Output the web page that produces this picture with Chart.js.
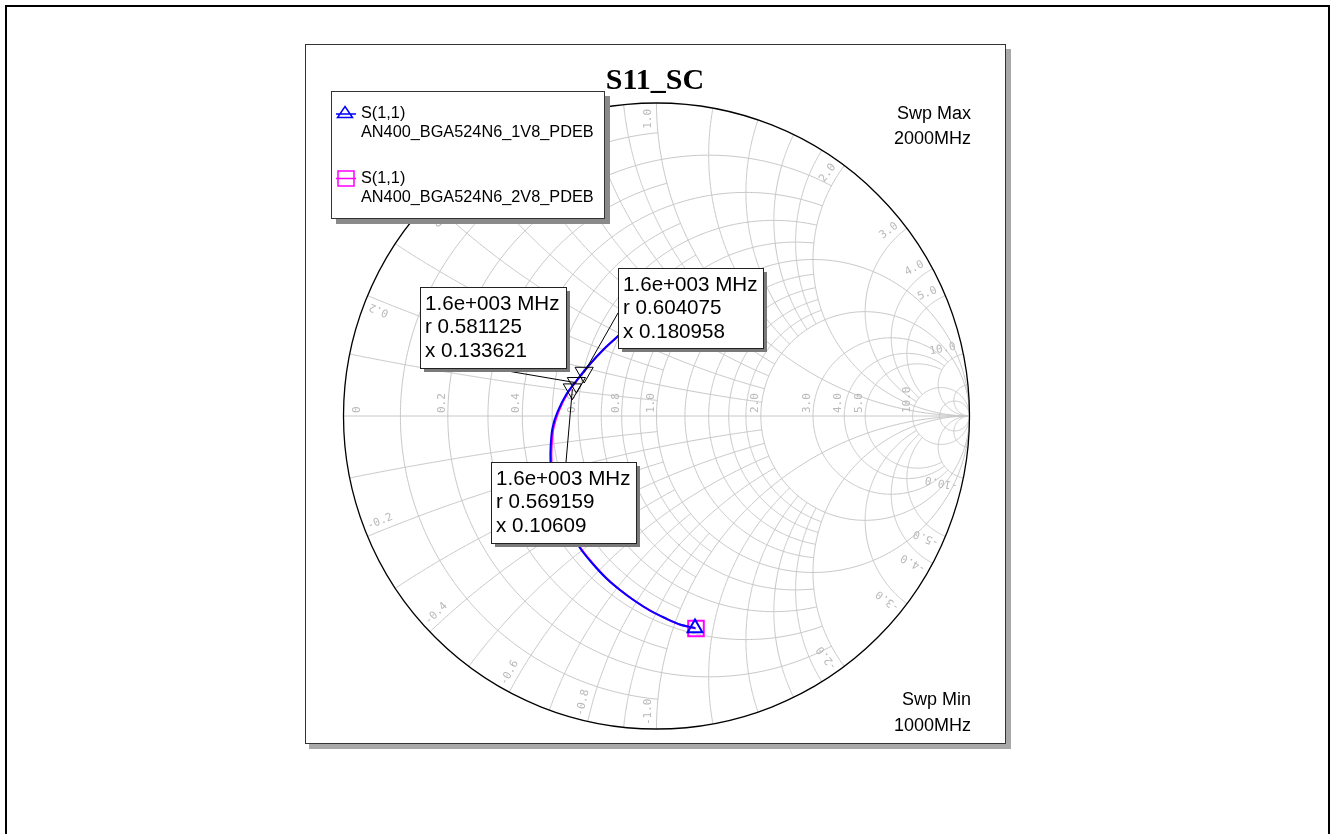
<!DOCTYPE html>
<html>
<head>
<meta charset="utf-8">
<script src="https://cdn.jsdelivr.net/npm/chart.js@4.4.1/dist/chart.umd.min.js"></script>
<style>
html, body { margin: 0; padding: 0; background: #fff; }
canvas { display: block; }
</style>
</head>
<body>
<canvas id="smith" width="1332" height="834" style="width:1332px;height:834px"></canvas>
<script>
// S(1,1) as reflection coefficient (real / imag), sweep 1000 -> 2000 MHz
const re1V8 = [0.1230, 0.0751, 0.0272, -0.0208, -0.0687, -0.1166, -0.1613, -0.2061, -0.2444, -0.2764, -0.3019, -0.3211,
    -0.3339, -0.3387, -0.3380, -0.3323, -0.3163, -0.2875, -0.2540, -0.2125, -0.1709, -0.1262, -0.1166];
const im1V8 = [-0.6773, -0.6661, -0.6454, -0.6214, -0.5911, -0.5559, -0.5176, -0.4696, -0.4217, -0.3642, -0.3067, -0.2492,
    -0.1949, -0.1438, -0.0927, -0.0383, 0.0128, 0.0703, 0.1150, 0.1661, 0.2109, 0.2524, 0.2620];
const re2V8 = [0.1262, 0.0783, 0.0304, -0.0176, -0.0655, -0.1134, -0.1581, -0.2029, -0.2412, -0.2732, -0.2987, -0.3179,
    -0.3307, -0.3355, -0.3348, -0.3291, -0.3131, -0.2847, -0.2514, -0.2099, -0.1684, -0.1236, -0.1141];
const im2V8 = [-0.6789, -0.6677, -0.6476, -0.6236, -0.5936, -0.5585, -0.5201, -0.4719, -0.4236, -0.3661, -0.3083, -0.2505,
    -0.1958, -0.1444, -0.0930, -0.0383, 0.0134, 0.0716, 0.1169, 0.1684, 0.2134, 0.2550, 0.2645];

// markers at 1.6 GHz (normalised r + jx, as printed in the boxes)
const mkFreq = ['1.6e+003 MHz', '1.6e+003 MHz', '1.6e+003 MHz'];
const mkR = [0.581125, 0.604075, 0.569159];
const mkX = [0.133621, 0.180958, 0.10609];

const seriesNames = ['AN400_BGA524N6_1V8_PDEB', 'AN400_BGA524N6_2V8_PDEB'];

// grid: [value, where the line stops] (Infinity = drawn all the way)
const rGrid = [[0.1, 1], [0.2, 2], [0.3, 1], [0.4, 2], [0.5, 1], [0.6, 2], [0.7, 1], [0.8, 2], [0.9, 1], [1, Infinity],
    [1.2, 2], [1.4, 2], [1.6, 2], [1.8, 2], [2, Infinity], [3, 10], [4, 10], [5, 10], [10, Infinity], [20, Infinity]];
const xGrid = [[0.1, 1], [0.2, 2], [0.3, 1], [0.4, 2], [0.5, 1], [0.6, 2], [0.7, 1], [0.8, 2], [0.9, 1], [1, Infinity],
    [1.2, 2], [1.4, 2], [1.6, 2], [1.8, 2], [2, Infinity], [3, 10], [4, 10], [5, 10], [10, Infinity], [20, Infinity]];
const rLabels = [0, 0.2, 0.4, 0.6, 0.8, 1, 2, 3, 4, 5, 10];
const xLabels = [0.2, 0.4, 0.6, 0.8, 1, 2, 3, 4, 5, 10];

// where the marker boxes sit, and where their leader lines leave the box
const boxes = [
    { x: 420, y: 287, w: 146, h: 81, lx: 490, ly: 368 },
    { x: 618, y: 268, w: 145, h: 80, lx: 618, ly: 313 },
    { x: 491, y: 462, w: 145, h: 81, lx: 566, ly: 462 }
];

function gamma(r, x) {
    const d = (r + 1) * (r + 1) + x * x;
    return [(r * r + x * x - 1) / d, 2 * x / d];
}

const pts = (re, im) => re.map((v, i) => ({ x: v, y: im[i] }));
const sans = '"Liberation Sans", Arial, sans-serif';

const smithGrid = {
    id: 'smithGrid',
    beforeDatasetsDraw(chart) {
        const { ctx, scales } = chart;
        const sx = scales.x, sy = scales.y;
        const poly = list => {
            ctx.beginPath();
            list.forEach((p, i) => {
                const px = sx.getPixelForValue(p[0]), py = sy.getPixelForValue(p[1]);
                if (i) ctx.lineTo(px, py); else ctx.moveTo(px, py);
            });
            ctx.stroke();
        };
        ctx.save();
        ctx.strokeStyle = '#c8c8c8';
        ctx.lineWidth = 1;
        rGrid.forEach(([r, lim]) => {
            const c = r / (1 + r), a = 1 / (1 + r);
            let t0 = 0;
            if (lim !== Infinity) {
                const g = gamma(r, lim);
                t0 = Math.atan2(g[1], g[0] - c);
            }
            const list = [];
            for (let i = 0; i <= 300; i++) {
                const t = t0 + (2 * Math.PI - 2 * t0) * i / 300;
                list.push([c + a * Math.cos(t), a * Math.sin(t)]);
            }
            poly(list);
        });
        xGrid.forEach(([xv, lim]) => {
            [xv, -xv].forEach(x => {
                const cy = 1 / x, a = Math.abs(1 / x);
                const g0 = gamma(0, x);
                const g1 = lim === Infinity ? [1, 0] : gamma(lim, x);
                const a0 = Math.atan2(g0[1] - cy, g0[0] - 1);
                let d = Math.atan2(g1[1] - cy, g1[0] - 1) - a0;
                if (d > Math.PI) d -= 2 * Math.PI;
                if (d < -Math.PI) d += 2 * Math.PI;
                const list = [];
                for (let i = 0; i <= 200; i++) {
                    const t = a0 + d * i / 200;
                    list.push([1 + a * Math.cos(t), cy + a * Math.sin(t)]);
                }
                poly(list);
            });
        });
        poly([[-1, 0], [1, 0]]);

        // tick labels
        const cx0 = sx.getPixelForValue(0), cy0 = sy.getPixelForValue(0);
        const R = sx.getPixelForValue(1) - cx0;
        ctx.font = '11px "DejaVu Sans Mono", monospace';
        ctx.fillStyle = '#b9b9b9';
        ctx.textBaseline = 'alphabetic';
        rLabels.forEach(r => {
            const px = sx.getPixelForValue((r - 1) / (r + 1));
            ctx.save();
            ctx.translate(r === 0 ? px + 16 : px - 3, cy0 - 3);
            ctx.rotate(-Math.PI / 2);
            ctx.textAlign = 'left';
            ctx.fillText(r === 0 ? '0' : r.toFixed(1), 0, 0);
            ctx.restore();
        });
        xLabels.forEach(xv => {
            [xv, -xv].forEach(x => {
                const g = gamma(0, x);
                const phi = Math.atan2(g[1], g[0]);
                ctx.save();
                ctx.translate(cx0 + R * Math.cos(phi), cy0 - R * Math.sin(phi));
                if (x > 0) {
                    ctx.rotate(-phi);
                    ctx.textAlign = 'right';
                    ctx.fillText(xv.toFixed(1), -6, -6);
                } else {
                    ctx.rotate(Math.PI - phi);
                    ctx.textAlign = 'left';
                    ctx.fillText('-' + xv.toFixed(1), 4, -6);
                }
                ctx.restore();
            });
        });

        // outer circle
        ctx.strokeStyle = '#000';
        ctx.lineWidth = 1.3;
        ctx.beginPath();
        ctx.arc(cx0, cy0, R, 0, 2 * Math.PI);
        ctx.stroke();
        ctx.restore();
    }
};

const frame = {
    id: 'frame',
    beforeDraw(chart) {
        const ctx = chart.ctx;
        ctx.save();
        ctx.strokeStyle = '#000';
        ctx.lineWidth = 2;
        ctx.strokeRect(6, 6, 1323, 840);

        ctx.fillStyle = '#a8a8a8';
        ctx.fillRect(1006, 49, 5, 700);
        ctx.fillRect(309, 744, 702, 5);
        ctx.fillStyle = '#fff';
        ctx.fillRect(305, 45, 701, 699);
        ctx.strokeStyle = '#333';
        ctx.lineWidth = 1;
        ctx.strokeRect(305.5, 44.5, 700, 699);

        ctx.fillStyle = '#000';
        ctx.font = 'bold 30px "Liberation Serif", "Times New Roman", serif';
        ctx.textAlign = 'center';
        ctx.textBaseline = 'alphabetic';
        ctx.fillText('S11_SC', 655, 89);

        ctx.font = '18px ' + sans;
        ctx.textAlign = 'right';
        ctx.textBaseline = 'middle';
        ctx.fillText('Swp Max', 971, 114);
        ctx.fillText('2000MHz', 971, 139.5);
        ctx.fillText('Swp Min', 971, 700);
        ctx.fillText('1000MHz', 971, 726);
        ctx.restore();
    },
    afterDatasetsDraw(chart) {
        const { ctx, scales } = chart;
        ctx.save();

        // marker boxes with leader lines
        boxes.forEach((b, i) => {
            const g = gamma(mkR[i], mkX[i]);
            ctx.strokeStyle = '#000';
            ctx.lineWidth = 1;
            ctx.beginPath();
            ctx.moveTo(b.lx, b.ly);
            ctx.lineTo(scales.x.getPixelForValue(g[0]), scales.y.getPixelForValue(g[1]));
            ctx.stroke();
        });
        boxes.forEach((b, i) => {
            ctx.fillStyle = '#7a7a7a';
            ctx.fillRect(b.x + 4, b.y + 4, b.w, b.h);
            ctx.fillStyle = '#fff';
            ctx.fillRect(b.x, b.y, b.w, b.h);
            ctx.strokeStyle = '#222';
            ctx.strokeRect(b.x + 0.5, b.y + 0.5, b.w, b.h);
            ctx.fillStyle = '#000';
            ctx.font = '20.6px ' + sans;
            ctx.textAlign = 'left';
            ctx.textBaseline = 'middle';
            ctx.fillText(mkFreq[i], b.x + 5, b.y + 17);
            ctx.fillText('r ' + mkR[i], b.x + 5, b.y + 40.5);
            ctx.fillText('x ' + mkX[i], b.x + 5, b.y + 64);
        });

        // legend
        ctx.fillStyle = '#8a8a8a';
        ctx.fillRect(336, 96, 274, 128);
        ctx.fillStyle = '#fff';
        ctx.fillRect(331, 91, 274, 128);
        ctx.strokeStyle = '#333';
        ctx.strokeRect(331.5, 91.5, 273, 127);

        ctx.lineWidth = 1.5;
        ctx.strokeStyle = '#0000ff';
        ctx.beginPath();
        ctx.moveTo(336, 114); ctx.lineTo(356, 114);
        ctx.moveTo(345, 106.5); ctx.lineTo(352.5, 117.5); ctx.lineTo(337.5, 117.5); ctx.closePath();
        ctx.stroke();
        ctx.strokeStyle = '#ff00ff';
        ctx.beginPath();
        ctx.moveTo(336, 178.5); ctx.lineTo(356, 178.5);
        ctx.rect(338, 171, 16, 15);
        ctx.stroke();

        ctx.fillStyle = '#000';
        ctx.font = '16.3px ' + sans;
        ctx.textAlign = 'left';
        ctx.textBaseline = 'middle';
        ctx.fillText('S(1,1)', 361, 114);
        ctx.fillText(seriesNames[0], 361, 133);
        ctx.fillText('S(1,1)', 361, 178.5);
        ctx.fillText(seriesNames[1], 361, 197.5);
        ctx.restore();
    }
};

new Chart(document.getElementById('smith'), {
    type: 'scatter',
    data: {
        datasets: [{
            label: 'markers',
            data: mkR.map((r, i) => { const g = gamma(r, mkX[i]); return { x: g[0], y: g[1] }; }),
            pointStyle: 'triangle',
            rotation: 180,
            pointRadius: 10.5,
            borderColor: '#000',
            backgroundColor: 'rgba(0,0,0,0)',
            borderWidth: 1,
            showLine: false
        }, {
            label: seriesNames[0],
            data: pts(re1V8, im1V8),
            showLine: true,
            borderColor: '#0000ff',
            borderWidth: 2,
            pointStyle: 'triangle',
            pointRadius: ctx => ctx.dataIndex === 0 ? 8.5 : 0,
            pointBorderColor: '#0000ff',
            pointBackgroundColor: 'rgba(0,0,0,0)',
            pointBorderWidth: 2
        }, {
            label: seriesNames[1],
            data: pts(re2V8, im2V8),
            showLine: true,
            borderColor: '#ff00ff',
            borderWidth: 2,
            pointStyle: 'rect',
            pointRadius: ctx => ctx.dataIndex === 0 ? 11 : 0,
            pointBorderColor: '#ff00ff',
            pointBackgroundColor: 'rgba(0,0,0,0)',
            pointBorderWidth: 2
        }]
    },
    options: {
        responsive: false,
        animation: false,
        layout: { padding: { left: 343.5, right: 362.5, top: 103, bottom: 105 } },
        elements: { line: { tension: 0.3 } },
        scales: {
            x: { display: false, min: -1, max: 1 },
            y: { display: false, min: -1, max: 1 }
        },
        plugins: {
            legend: { display: false },
            tooltip: { enabled: false }
        }
    },
    plugins: [frame, smithGrid]
});
</script>
</body>
</html>
